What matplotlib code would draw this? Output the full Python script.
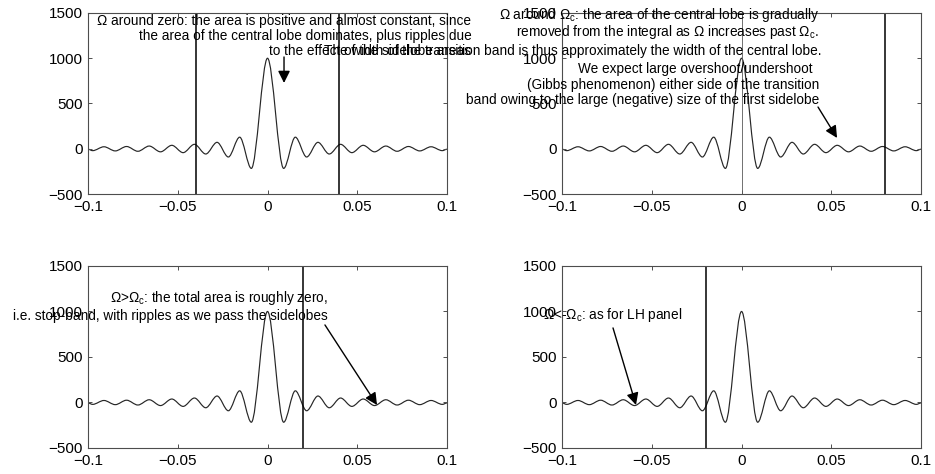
import matplotlib
matplotlib.use("Agg")
import matplotlib.pyplot as plt
from matplotlib.path import Path
from matplotlib.patches import PathPatch

plt.rcParams['font.family'] = ['Liberation Sans', 'DejaVu Sans']
plt.rcParams['mathtext.fontset'] = 'custom'
plt.rcParams['mathtext.rm'] = 'Liberation Sans'
plt.rcParams['mathtext.it'] = 'Liberation Sans:italic'
plt.rcParams['mathtext.bf'] = 'Liberation Sans:bold'

# lobe extrema of the kernel (x in rad/sample, height)
lobe_x = [-0.1, -0.0974, -0.0911, -0.0848, -0.0785, -0.0722, -0.0659, -0.0596,
          -0.0533, -0.047, -0.0407, -0.0344, -0.0281, -0.0218, -0.0155, -0.009,
          0.0,
          0.009, 0.0155, 0.0218, 0.0281, 0.0344, 0.0407, 0.047, 0.0533,
          0.0596, 0.0659, 0.0722, 0.0785, 0.0848, 0.0911, 0.0974, 0.1]
lobe_y = [-5, -21, 22, -24, 25, -28, 30, -34,
          38, -43, 49, -58, 71, -91, 128, -217,
          1000,
          -217, 128, -91, 71, -58, 49, -43, 38,
          -34, 30, -28, 25, -24, 22, -21, -5]

x_ticks = [-0.1, -0.05, 0, 0.05, 0.1]
x_tick_labels = ['\u22120.1', '\u22120.05', '0', '0.05', '0.1']
y_ticks = [-500, 0, 500, 1000, 1500]
y_tick_labels = ['\u2212500', '0', '500', '1000', '1500']

# integration window edges in each panel (TL, TR, BL, BR)
window_edges = [[-0.04, 0.04], [0.08], [0.02], [-0.02]]
thin_edges = [[], [0.0], [], []]

OM = '\u03a9'
OMC = '\u03a9${}_\\mathrm{c}$'

# (x, y, text, ha) in data coordinates of the panel
texts_tl = [
    (-0.095, 1412, OM + ' around zero: the area is positive and almost constant, since', 'left'),
    (-0.0716, 1250, 'the area of the central lobe dominates, plus ripples due', 'left'),
    (0.0008, 1075, 'to the effect of the sidelobe areas', 'left'),
]
texts_tr = [
    (0.0432, 1478, OM + ' around ' + OMC + ': the area of the central lobe is gradually', 'right'),
    (0.0432, 1290, 'removed from the integral as ' + OM + ' increases past ' + OMC + '.', 'right'),
    (0.0445, 1080, 'The width of the transition band is thus approximately the width of the central lobe.', 'right'),
    (0.0395, 885, 'We expect large overshoot/undershoot', 'right'),
    (0.0432, 705, '(Gibbs phenomenon) either side of the transition', 'right'),
    (0.0432, 540, 'band owing to the large (negative) size of the first sidelobe', 'right'),
]
texts_bl = [
    (0.0337, 1148, OM + '>' + OMC + ': the total area is roughly zero,', 'right'),
    (0.0337, 950, 'i.e. stop-band, with ripples as we pass the sidelobes', 'right'),
]
texts_br = [
    (-0.1106, 962, OM + '<-' + OMC + ': as for LH panel', 'left'),
]
panel_texts = [texts_tl, texts_tr, texts_bl, texts_br]

# arrows: (tail, head) in data coordinates
panel_arrows = [
    [((0.0092, 1014), (0.0092, 727))],
    [((0.0426, 461), (0.0532, 119))],
    [((0.032, 852), (0.061, -28))],
    [((-0.0716, 819), (-0.0588, -28))],
]


def lobe_path(xs, ys):
    verts = [(xs[0], ys[0])]
    codes = [Path.MOVETO]
    for x0, y0, x1, y1 in zip(xs[:-1], ys[:-1], xs[1:], ys[1:]):
        dx = (x1 - x0) / 3
        verts += [(x0 + dx, y0), (x1 - dx, y1), (x1, y1)]
        codes += [Path.CURVE4] * 3
    return Path(verts, codes)


fig = plt.figure(figsize=(9.35, 4.74), dpi=100)
positions = [
    [0.0941, 0.5907, 0.384, 0.3819],
    [0.6011, 0.5907, 0.384, 0.3819],
    [0.0941, 0.0549, 0.384, 0.3840],
    [0.6011, 0.0549, 0.384, 0.3840],
]

for i, pos in enumerate(positions):
    ax = fig.add_axes(pos)
    ax.add_patch(PathPatch(lobe_path(lobe_x, lobe_y), fill=False,
                           ec='0.15', lw=0.85))
    for xv in window_edges[i]:
        ax.axvline(xv, color='k', lw=1.1)
    for xv in thin_edges[i]:
        ax.axvline(xv, color='0.35', lw=0.6)

    ax.set_xlim(-0.1, 0.1)
    ax.set_ylim(-500, 1500)
    ax.set_xticks(x_ticks)
    ax.set_xticklabels(x_tick_labels)
    ax.set_yticks(y_ticks)
    ax.set_yticklabels(y_tick_labels)
    ax.tick_params(direction='in', top=True, right=True, length=3,
                   width=0.7, labelsize=11, color='0.3', pad=4)
    for s in ax.spines.values():
        s.set_color('0.3')
        s.set_linewidth(0.8)

    for x, y, t, ha in panel_texts[i]:
        ax.text(x, y, t, ha=ha, va='center', fontsize=9.8, clip_on=False,
                zorder=5)
    for tail, head in panel_arrows[i]:
        ax.annotate('', xy=head, xytext=tail, annotation_clip=False,
                    arrowprops=dict(arrowstyle='-|>', color='k', lw=1.0,
                                    mutation_scale=18, shrinkA=0, shrinkB=0))

fig.savefig('out.png', dpi=100)
